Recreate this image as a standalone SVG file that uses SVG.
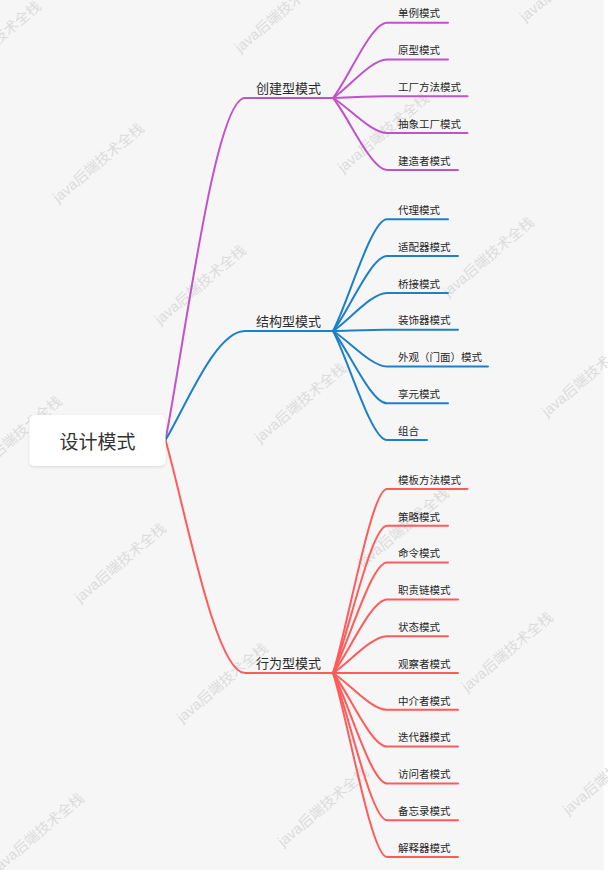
<svg xmlns="http://www.w3.org/2000/svg" width="608" height="870" viewBox="0 0 608 870">
<style>
.wm{font-family:"Liberation Sans","Noto Sans CJK SC",sans-serif;font-size:14.5px;fill:#dcdcdc}
.lbl{font-family:"Noto Sans CJK SC","Noto Sans",sans-serif;font-size:10.5px;fill:#262626}
.br{font-family:"Noto Sans CJK SC","Noto Sans",sans-serif;font-size:13px;fill:#2b2b2b}
.root{font-family:"Noto Sans CJK SC","Noto Sans",sans-serif;font-size:19px;fill:#333;text-anchor:middle}
.c{fill:none;stroke-width:2;stroke-linecap:round}
.p{stroke:#c152cb}
.b{stroke:#1e80c8}
.r{stroke:#ff5b5b}
</style>
<defs>
<filter id="sh" x="-20%" y="-30%" width="140%" height="160%">
<feDropShadow dx="0" dy="1" stdDeviation="1.5" flood-color="#000" flood-opacity="0.12"/>
</filter>
</defs>
<rect x="0" y="0" width="608" height="870" fill="#f6f6f6"/>
<rect x="604" y="0" width="4" height="870" fill="#ffffff"/>
<g id="watermarks">
<text class="wm" transform="translate(-45,81) rotate(-40)">java后端技术全栈</text>
<text class="wm" transform="translate(240,53) rotate(-40)">java后端技术全栈</text>
<text class="wm" transform="translate(525,22) rotate(-40)">java后端技术全栈</text>
<text class="wm" transform="translate(58,203) rotate(-40)">java后端技术全栈</text>
<text class="wm" transform="translate(343,173) rotate(-40)">java后端技术全栈</text>
<text class="wm" transform="translate(160,325) rotate(-40)">java后端技术全栈</text>
<text class="wm" transform="translate(448,297) rotate(-40)">java后端技术全栈</text>
<text class="wm" transform="translate(-24,476) rotate(-40)">java后端技术全栈</text>
<text class="wm" transform="translate(260,443) rotate(-40)">java后端技术全栈</text>
<text class="wm" transform="translate(547,417) rotate(-40)">java后端技术全栈</text>
<text class="wm" transform="translate(80,603) rotate(-40)">java后端技术全栈</text>
<text class="wm" transform="translate(182,723) rotate(-40)">java后端技术全栈</text>
<text class="wm" transform="translate(363,568) rotate(-40)">java后端技术全栈</text>
<text class="wm" transform="translate(467,692) rotate(-40)">java后端技术全栈</text>
<text class="wm" transform="translate(-2,873) rotate(-40)">java后端技术全栈</text>
<text class="wm" transform="translate(283,847) rotate(-40)">java后端技术全栈</text>
<text class="wm" transform="translate(568,815) rotate(-40)">java后端技术全栈</text>
</g>
<g id="connectors">
<path class="c p" d="M165.5,440 C185.4,337.4 215.2,98 245,98 H333"/>
<path class="c b" d="M165.5,440 C185.4,407.3 215.2,331 245,331 H333"/>
<path class="c r" d="M165.5,440 C185.4,509.9 215.2,673 245,673 H333"/>
<path class="c p" d="M333,98 C348,79.2 371,22.7 387,22.7 H448"/>
<path class="c p" d="M333,98 C348,88.4 371,59.5 387,59.5 H448"/>
<path class="c p" d="M333,98 C348,97.6 371,96.3 387,96.3 H467.5"/>
<path class="c p" d="M333,98 C348,106.8 371,133.1 387,133.1 H467.5"/>
<path class="c p" d="M333,98 C348,116 371,169.9 387,169.9 H458"/>
<path class="c b" d="M333,331 C348,303.1 371,219.3 387,219.3 H448"/>
<path class="c b" d="M333,331 C348,312.3 371,256.1 387,256.1 H458"/>
<path class="c b" d="M333,331 C348,321.5 371,292.9 387,292.9 H448"/>
<path class="c b" d="M333,331 C348,330.7 371,329.7 387,329.7 H458"/>
<path class="c b" d="M333,331 C348,339.9 371,366.5 387,366.5 H488"/>
<path class="c b" d="M333,331 C348,349.1 371,403.3 387,403.3 H448"/>
<path class="c b" d="M333,331 C348,358.3 371,440.1 387,440.1 H427"/>
<path class="c r" d="M333,673 C348,627 371,489 387,489 H467.5"/>
<path class="c r" d="M333,673 C348,636.2 371,525.8 387,525.8 H448"/>
<path class="c r" d="M333,673 C348,645.4 371,562.6 387,562.6 H448"/>
<path class="c r" d="M333,673 C348,654.6 371,599.4 387,599.4 H458"/>
<path class="c r" d="M333,673 C348,663.8 371,636.2 387,636.2 H448"/>
<path class="c r" d="M333,673 H458"/>
<path class="c r" d="M333,673 C348,682.2 371,709.8 387,709.8 H458"/>
<path class="c r" d="M333,673 C348,691.4 371,746.6 387,746.6 H458"/>
<path class="c r" d="M333,673 C348,700.6 371,783.4 387,783.4 H458"/>
<path class="c r" d="M333,673 C348,709.8 371,820.2 387,820.2 H458"/>
<path class="c r" d="M333,673 C348,719 371,857 387,857 H458"/>
</g>
<g id="root">
<rect x="29.5" y="415" width="136" height="51" rx="5" fill="#ffffff" filter="url(#sh)"/>
<text class="root" x="97.5" y="449">设计模式</text>
</g>
<g id="creational">
<text class="br" x="256" y="92.5">创建型模式</text>
</g>
<g id="structural">
<text class="br" x="256" y="325.5">结构型模式</text>
</g>
<g id="behavioral">
<text class="br" x="256" y="667.5">行为型模式</text>
</g>
<g id="c1"><text class="lbl" x="398" y="17.4">单例模式</text></g>
<g id="c2"><text class="lbl" x="398" y="54.2">原型模式</text></g>
<g id="c3"><text class="lbl" x="398" y="91">工厂方法模式</text></g>
<g id="c4"><text class="lbl" x="398" y="127.8">抽象工厂模式</text></g>
<g id="c5"><text class="lbl" x="398" y="164.6">建造者模式</text></g>
<g id="s1"><text class="lbl" x="398" y="214">代理模式</text></g>
<g id="s2"><text class="lbl" x="398" y="250.8">适配器模式</text></g>
<g id="s3"><text class="lbl" x="398" y="287.6">桥接模式</text></g>
<g id="s4"><text class="lbl" x="398" y="324.4">装饰器模式</text></g>
<g id="s5"><text class="lbl" x="398" y="361.2">外观（门面）模式</text></g>
<g id="s6"><text class="lbl" x="398" y="398">享元模式</text></g>
<g id="s7"><text class="lbl" x="398" y="434.8">组合</text></g>
<g id="b1"><text class="lbl" x="398" y="483.7">模板方法模式</text></g>
<g id="b2"><text class="lbl" x="398" y="520.5">策略模式</text></g>
<g id="b3"><text class="lbl" x="398" y="557.3">命令模式</text></g>
<g id="b4"><text class="lbl" x="398" y="594.1">职责链模式</text></g>
<g id="b5"><text class="lbl" x="398" y="630.9">状态模式</text></g>
<g id="b6"><text class="lbl" x="398" y="667.7">观察者模式</text></g>
<g id="b7"><text class="lbl" x="398" y="704.5">中介者模式</text></g>
<g id="b8"><text class="lbl" x="398" y="741.3">迭代器模式</text></g>
<g id="b9"><text class="lbl" x="398" y="778.1">访问者模式</text></g>
<g id="b10"><text class="lbl" x="398" y="814.9">备忘录模式</text></g>
<g id="b11"><text class="lbl" x="398" y="851.7">解释器模式</text></g>
</svg>
